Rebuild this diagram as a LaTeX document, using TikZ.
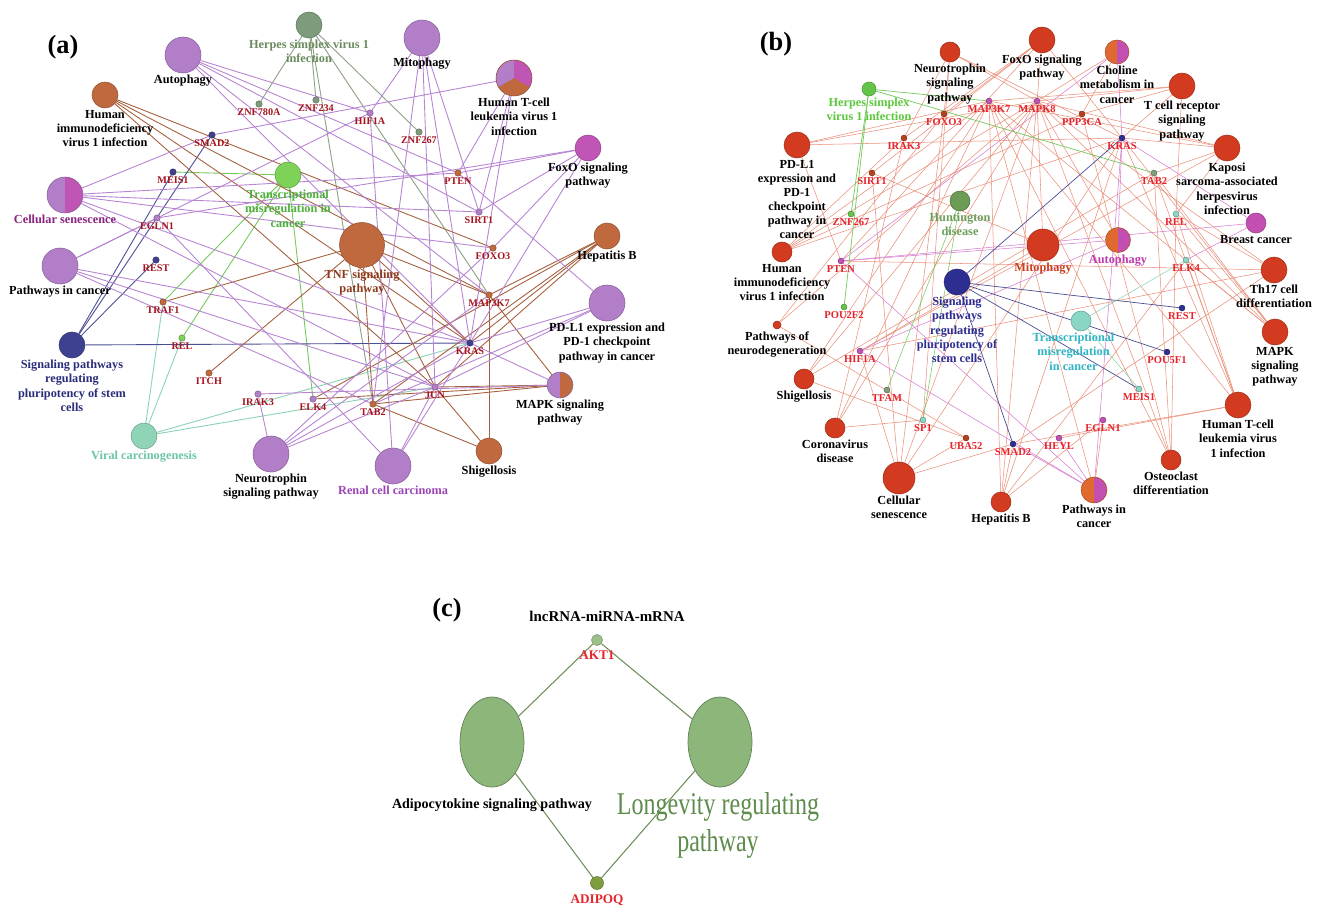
\documentclass[tikz,border=0pt]{standalone}
\usepackage{fontspec}
\setmainfont{Liberation Serif}
\newfontfamily\narrowserif[FakeStretch=0.76]{Liberation Serif}
\usepackage{tikz}
\usetikzlibrary{shapes.geometric,backgrounds}

% node colours
\definecolor{purpC}{HTML}{B27EC8}
\definecolor{magC}{HTML}{C055B5}
\definecolor{brownC}{HTML}{C0693E}
\definecolor{tealC}{HTML}{90D4B8}
\definecolor{navyC}{HTML}{3E418F}
\definecolor{greenC}{HTML}{7ED257}
\definecolor{herpC}{HTML}{7E9B7C}
\definecolor{redC}{HTML}{D33B20}
\definecolor{redD}{HTML}{B5401E}
\definecolor{orgC}{HTML}{E0692F}
\definecolor{magB}{HTML}{C34FB3}
\definecolor{greenB}{HTML}{62C548}
\definecolor{huntC}{HTML}{6B9B55}
\definecolor{tealB}{HTML}{8AD6C4}
\definecolor{navyB}{HTML}{2D2E92}
\definecolor{pathC}{HTML}{8DB77A}
\definecolor{aktC}{HTML}{9BC08A}
\definecolor{adipoqC}{HTML}{7F9C3E}
% text colours
\definecolor{geneT}{HTML}{A5141E}
\definecolor{geneBT}{HTML}{E6242C}
\definecolor{herpT}{HTML}{6B8B5F}
\definecolor{cellT}{HTML}{8A2381}
\definecolor{renalT}{HTML}{9B45B5}
\definecolor{viralT}{HTML}{6CC5A5}
\definecolor{transT}{HTML}{4DB03A}
\definecolor{tnfT}{HTML}{8B3A1A}
\definecolor{navyT}{HTML}{2A2D7A}
\definecolor{herpBT}{HTML}{5CC83C}
\definecolor{huntT}{HTML}{6E9E5A}
\definecolor{mitoT}{HTML}{C8401F}
\definecolor{autoT}{HTML}{C03AB0}
\definecolor{transBT}{HTML}{30B5C5}
\definecolor{longT}{HTML}{5E8C4C}
% edge colours
\definecolor{pedgeC}{HTML}{B784D2}
\definecolor{bedgeC}{HTML}{A5603E}
\definecolor{gedgeC}{HTML}{74C95C}
\definecolor{hedgeC}{HTML}{8AA183}
\definecolor{tedgeC}{HTML}{89D2B5}
\definecolor{nedgeC}{HTML}{4A4F95}
\definecolor{redgeC}{HTML}{EA8F78}
\definecolor{medgeC}{HTML}{D77AD0}
\definecolor{cedgeC}{HTML}{6E8F5A}

\begin{document}
\begin{tikzpicture}[x=0.2mm,y=-0.2mm]
        \tikzstyle{cat}=[circle, inner sep=0pt, fill=#1, draw=#1!75!black, line width=0.3pt]
        \tikzstyle{gene}=[circle, inner sep=0pt, minimum size=1.3mm, fill=#1, draw=#1!60!black, line width=0.2pt]
        \tikzstyle{huge}=[minimum size=9mm]
        \tikzstyle{big}=[minimum size=7.2mm]
        \tikzstyle{mid}=[minimum size=5.2mm]
        \tikzstyle{sml}=[minimum size=4mm]
        \tikzstyle{clbl}=[font=\fontsize{7}{8}\selectfont\bfseries, align=center, inner sep=1pt]
        \tikzstyle{glbl}=[font=\fontsize{5.8}{6.5}\selectfont\bfseries, text=geneT, inner sep=0.5pt]
        \tikzstyle{glblb}=[font=\fontsize{6}{6.5}\selectfont\bfseries, text=geneBT, inner sep=0.5pt]
        \tikzstyle{clblc}=[font=\fontsize{7.5}{9}\selectfont\bfseries, text=geneBT, inner sep=1pt, label distance=0.5mm]
        \tikzstyle{tag}=[font=\fontsize{15}{18}\selectfont\bfseries]
        \tikzstyle{pathw}=[ellipse, inner sep=0pt, fill=pathC, draw=pathC!70!black, line width=0.4pt, minimum width=12.8mm, minimum height=18mm]
        \tikzstyle{pedge}=[pedgeC, line width=0.5pt]
        \tikzstyle{bedge}=[bedgeC, line width=0.5pt]
        \tikzstyle{gedge}=[gedgeC, line width=0.5pt]
        \tikzstyle{hedge}=[hedgeC, line width=0.5pt]
        \tikzstyle{tedge}=[tedgeC, line width=0.5pt]
        \tikzstyle{nedge}=[nedgeC, line width=0.5pt]
        \tikzstyle{redge}=[redgeC, line width=0.3pt]
        \tikzstyle{medge}=[medgeC, line width=0.3pt]
        \tikzstyle{cedge}=[cedgeC, line width=0.6pt]
        \tikzset{halfpie/.style 2 args={circle, inner sep=0pt, fill=#1, draw=#1!75!black, line width=0.3pt,
            path picture={\fill[#2] (path picture bounding box.north) rectangle (path picture bounding box.south east);}}}
        \tikzset{tripie/.style={circle, inner sep=0pt, fill=brownC, draw=brownC!75!black, line width=0.3pt,
            path picture={
              \fill[purpC] (path picture bounding box.center) -- ++(90:6mm) arc[start angle=90, end angle=210, radius=6mm] -- cycle;
              \fill[magC] (path picture bounding box.center) -- ++(90:6mm) arc[start angle=90, end angle=-30, radius=6mm] -- cycle;}}}

        \useasboundingbox (0,0) rectangle (1320,913);
        \begin{pgfonlayer}{background}
          \fill[white] (0,0) rectangle (1320,913);
        \end{pgfonlayer}

        % Panel (a): pathways
        \node (tag-a) [tag] at (63,47) {(a)};
        \node (a-auto) [cat=purpC, big, label={[clbl]below:Autophagy}] at (183,55) {};
        \node (a-herp) [cat=herpC, mid, label={[clbl, text=herpT]below:{Herpes simplex virus 1\\infection}}] at (309,25) {};
        \node (a-mito) [cat=purpC, big, label={[clbl]below:Mitophagy}] at (422,38) {};
        \node (a-htlv) [tripie, big, label={[clbl]below:{Human T-cell\\leukemia virus 1\\infection}}] at (514,78) {};
        \node (a-foxo) [cat=magC, mid, label={[clbl]below:{FoxO signaling\\pathway}}] at (588,148) {};
        \node (a-hepb) [cat=brownC, mid, label={[clbl]below:Hepatitis B}] at (607,236) {};
        \node (a-pdl1) [cat=purpC, big, label={[clbl]below:{PD-L1 expression and\\PD-1 checkpoint\\pathway in cancer}}] at (607,303) {};
        \node (a-mapk) [halfpie={purpC}{brownC}, mid, label={[clbl]below:{MAPK signaling\\pathway}}] at (560,385) {};
        \node (a-shig) [cat=brownC, mid, label={[clbl]below:Shigellosis}] at (489,451) {};
        \node (a-renal) [cat=purpC, big, label={[clbl, text=renalT]below:Renal cell carcinoma}] at (393,466) {};
        \node (a-neuro) [cat=purpC, big, label={[clbl]below:{Neurotrophin\\signaling pathway}}] at (271,454) {};
        \node (a-viral) [cat=tealC, mid, label={[clbl, text=viralT]below:Viral carcinogenesis}] at (144,436) {};
        \node (a-stem) [cat=navyC, mid, label={[clbl, text=navyT]below:{Signaling pathways\\regulating\\pluripotency of stem\\cells}}] at (72,345) {};
        \node (a-pic) [cat=purpC, big, label={[clbl]below:Pathways in cancer}] at (60,266) {};
        \node (a-cell) [halfpie={purpC}{magC}, big, label={[clbl, text=cellT]below:Cellular senescence}] at (65,195) {};
        \node (a-hiv) [cat=brownC, mid, label={[clbl]below:{Human\\immunodeficiency\\virus 1 infection}}] at (105,95) {};
        \node (a-trans) [cat=greenC, mid, label={[clbl, text=transT]below:{Transcriptional\\misregulation in\\cancer}}] at (288,175) {};
        \node (a-tnf) [cat=brownC, huge, label={[clbl, text=tnfT]below:{TNF signaling\\pathway}}] at (362,245) {};

        % Panel (a): genes
        \node (a-znf780a) [gene=herpC, label={[glbl]below:ZNF780A}] at (259,104) {};
        \node (a-znf234) [gene=herpC, label={[glbl]below:ZNF234}] at (316,100) {};
        \node (a-hif1a) [gene=purpC, label={[glbl]below:HIF1A}] at (370,113) {};
        \node (a-znf267) [gene=herpC, label={[glbl]below:ZNF267}] at (419,132) {};
        \node (a-smad2) [gene=navyC, label={[glbl]below:SMAD2}] at (212,135) {};
        \node (a-meis1) [gene=navyC, label={[glbl]below:MEIS1}] at (173,172) {};
        \node (a-egln1) [gene=purpC, label={[glbl]below:EGLN1}] at (157,218) {};
        \node (a-rest) [gene=navyC, label={[glbl]below:REST}] at (156,260) {};
        \node (a-traf1) [gene=brownC, label={[glbl]below:TRAF1}] at (163,302) {};
        \node (a-rel) [gene=greenC, label={[glbl]below:REL}] at (182,338) {};
        \node (a-itch) [gene=brownC, label={[glbl]below:ITCH}] at (209,373) {};
        \node (a-irak3) [gene=purpC, label={[glbl]below:IRAK3}] at (258,394) {};
        \node (a-elk4) [gene=purpC, label={[glbl]below:ELK4}] at (313,399) {};
        \node (a-tab2) [gene=brownC, label={[glbl]below:TAB2}] at (373,404) {};
        \node (a-jun) [gene=purpC, label={[glbl]below:JUN}] at (435,387) {};
        \node (a-kras) [gene=navyC, label={[glbl]below:KRAS}] at (470,343) {};
        \node (a-map3k7) [gene=brownC, label={[glbl]below:MAP3K7}] at (489,295) {};
        \node (a-foxo3) [gene=brownC, label={[glbl]below:FOXO3}] at (493,248) {};
        \node (a-sirt1) [gene=purpC, label={[glbl]below:SIRT1}] at (479,212) {};
        \node (a-pten) [gene=brownC, label={[glbl]below:PTEN}] at (458,173) {};

        % Panel (b): pathways
        \node (tag-b) [tag] at (776,44) {(b)};
        \node (b-neuro) [cat=redC, sml, label={[clbl]below:{Neurotrophin\\signaling\\pathway}}] at (950,52) {};
        \node (b-foxo) [cat=redC, mid, label={[clbl]below:{FoxO signaling\\pathway}}] at (1042,40) {};
        \node (b-chol) [halfpie={orgC}{magB}, minimum size=4.8mm, label={[clbl]below:{Choline\\metabolism in\\cancer}}] at (1117,52) {};
        \node (b-tcr) [cat=redC, mid, label={[clbl]below:{T cell receptor\\signaling\\pathway}}] at (1182,86) {};
        \node (b-kshv) [cat=redC, mid, label={[clbl]below:{Kaposi\\sarcoma-associated\\herpesvirus\\infection}}] at (1227,148) {};
        \node (b-brca) [cat=magB, sml, label={[clbl]below:Breast cancer}] at (1256,223) {};
        \node (b-th17) [cat=redC, mid, label={[clbl]below:{Th17 cell\\differentiation}}] at (1274,270) {};
        \node (b-mapk) [cat=redC, mid, label={[clbl]below:{MAPK\\signaling\\pathway}}] at (1275,332) {};
        \node (b-htlv) [cat=redC, mid, label={[clbl]below:{Human T-cell\\leukemia virus\\1 infection}}] at (1238,405) {};
        \node (b-osteo) [cat=redC, sml, label={[clbl]below:{Osteoclast\\differentiation}}] at (1171,460) {};
        \node (b-pic) [halfpie={orgC}{magB}, mid, label={[clbl]below:{Pathways in\\cancer}}] at (1094,490) {};
        \node (b-hepb) [cat=redC, sml, label={[clbl]below:Hepatitis B}] at (1001,502) {};
        \node (b-cell) [cat=redC, minimum size=6.4mm, label={[clbl]below:{Cellular\\senescence}}] at (899,478) {};
        \node (b-covid) [cat=redC, sml, label={[clbl]below:{Coronavirus\\disease}}] at (835,428) {};
        \node (b-shig) [cat=redC, sml, label={[clbl]below:Shigellosis}] at (804,379) {};
        \node (b-ndeg) [cat=redC, minimum size=1.6mm, label={[clbl]below:{Pathways of\\neurodegeneration}}] at (777,325) {};
        \node (b-hiv) [cat=redC, sml, label={[clbl]below:{Human\\immunodeficiency\\virus 1 infection}}] at (782,252) {};
        \node (b-pdl1) [cat=redC, mid, label={[clbl]below:{PD-L1\\expression and\\PD-1\\checkpoint\\pathway in\\cancer}}] at (797,145) {};
        \node (b-herp) [cat=greenB, minimum size=2.8mm, label={[clbl, text=herpBT]below:{Herpes simplex\\virus 1 infection}}] at (869,89) {};
        \node (b-hunt) [cat=huntC, sml, label={[clbl, text=huntT]below:{Huntington\\disease}}] at (960,201) {};
        \node (b-mito) [cat=redC, minimum size=6.4mm, label={[clbl, text=mitoT]below:Mitophagy}] at (1043,245) {};
        \node (b-auto) [halfpie={orgC}{magB}, minimum size=5mm, label={[clbl, text=autoT]below:Autophagy}] at (1118,240) {};
        \node (b-stem) [cat=navyB, mid, label={[clbl, text=navyB]below:{Signaling\\pathways\\regulating\\pluripotency of\\stem cells}}] at (957,282) {};
        \node (b-trans) [cat=tealB, sml, label={[clbl, text=transBT, xshift=-1.5mm]below:{Transcriptional\\misregulation\\in cancer}}] at (1081,321) {};

        % Panel (b): genes
        \node (b-foxo3) [gene=redD, minimum size=1.2mm, label={[glblb]below:FOXO3}] at (944,114) {};
        \node (b-map3k7) [gene=magB, minimum size=1.2mm, label={[glblb]below:MAP3K7}] at (989,101) {};
        \node (b-mapk8) [gene=magB, minimum size=1.2mm, label={[glblb]below:MAPK8}] at (1037,101) {};
        \node (b-ppp3ca) [gene=redD, minimum size=1.2mm, label={[glblb]below:PPP3CA}] at (1082,114) {};
        \node (b-kras) [gene=navyB, minimum size=1.2mm, label={[glblb]below:KRAS}] at (1122,138) {};
        \node (b-tab2) [gene=herpC, minimum size=1.2mm, label={[glblb]below:TAB2}] at (1154,173) {};
        \node (b-rel) [gene=tealB, minimum size=1.2mm, label={[glblb]below:REL}] at (1176,214) {};
        \node (b-elk4) [gene=tealB, minimum size=1.2mm, label={[glblb]below:ELK4}] at (1186,260) {};
        \node (b-rest) [gene=navyB, minimum size=1.2mm, label={[glblb]below:REST}] at (1182,308) {};
        \node (b-pou5f1) [gene=navyB, minimum size=1.2mm, label={[glblb]below:POU5F1}] at (1167,352) {};
        \node (b-meis1) [gene=tealB, minimum size=1.2mm, label={[glblb]below:MEIS1}] at (1139,389) {};
        \node (b-egln1) [gene=magB, minimum size=1.2mm, label={[glblb]below:EGLN1}] at (1103,420) {};
        \node (b-heyl) [gene=magB, minimum size=1.2mm, label={[glblb]below:HEYL}] at (1059,438) {};
        \node (b-smad2) [gene=navyB, minimum size=1.2mm, label={[glblb]below:SMAD2}] at (1013,444) {};
        \node (b-uba52) [gene=redD, minimum size=1.2mm, label={[glblb]below:UBA52}] at (966,438) {};
        \node (b-sp1) [gene=tealB, minimum size=1.2mm, label={[glblb]below:SP1}] at (923,420) {};
        \node (b-tfam) [gene=herpC, minimum size=1.2mm, label={[glblb]below:TFAM}] at (887,390) {};
        \node (b-hif1a) [gene=magB, minimum size=1.2mm, label={[glblb]below:HIF1A}] at (860,351) {};
        \node (b-pou2f2) [gene=greenB, minimum size=1.2mm, label={[glblb]below:POU2F2}] at (844,307) {};
        \node (b-pten) [gene=magB, minimum size=1.2mm, label={[glblb]below:PTEN}] at (841,261) {};
        \node (b-znf267) [gene=greenB, minimum size=1.2mm, label={[glblb]below:ZNF267}] at (851,214) {};
        \node (b-sirt1) [gene=redD, minimum size=1.2mm, label={[glblb]below:SIRT1}] at (872,173) {};
        \node (b-irak3) [gene=redD, minimum size=1.2mm, label={[glblb]below:IRAK3}] at (904,138) {};

        % Panel (c)
        \node (tag-c) [tag] at (447,610) {(c)};
        \node (c-title) [font=\fontsize{8.5}{10}\selectfont\bfseries] at (607,616) {lncRNA-miRNA-mRNA};
        \node (c-akt1) [cat=aktC, minimum size=2.2mm, label={[clblc]below:AKT1}] at (597,640) {};
        \node (c-adipo) [pathw, label={[font=\fontsize{8}{9}\selectfont\bfseries, label distance=1mm]below:Adipocytokine signaling pathway}] at (492,742) {};
        \node (c-long) [pathw] at (720,742) {};
        \node (c-longlbl) [font=\narrowserif\fontsize{18}{21}\selectfont, text=longT, align=center] at (718,825) {Longevity regulating\\pathway};
        \node (c-adipoq) [cat=adipoqC, minimum size=2.6mm, label={[clblc]below:ADIPOQ}] at (597,883) {};

        % Edges
        \begin{pgfonlayer}{background}
          % panel (a)
          \foreach \g in {znf780a,znf234,znf267,map3k7,tab2} \draw[hedge] (a-herp) -- (a-\g);
          \foreach \g in {meis1,traf1,rel,elk4} \draw[gedge] (a-trans) -- (a-\g);
          \foreach \g in {traf1,rel,kras,jun} \draw[tedge] (a-viral) -- (a-\g);
          \foreach \g in {smad2,meis1,rest,kras} \draw[nedge] (a-stem) -- (a-\g);
          \foreach \g in {foxo3,map3k7,kras,jun} \draw[bedge] (a-hiv) -- (a-\g);
          \foreach \g in {traf1,itch,map3k7,kras,jun,tab2} \draw[bedge] (a-tnf) -- (a-\g);
          \foreach \g in {map3k7,kras,jun,tab2,elk4} \draw[bedge] (a-hepb) -- (a-\g);
          \foreach \g in {map3k7,jun,tab2} \draw[bedge] (a-shig) -- (a-\g);
          \foreach \g in {map3k7,jun,tab2,elk4} \draw[bedge] (a-mapk) -- (a-\g);
          \foreach \g in {kras,irak3} \draw[pedge] (a-mapk) -- (a-\g);
          \foreach \g in {pten,kras,jun,tab2} \draw[pedge] (a-pdl1) -- (a-\g);
          \foreach \g in {pten,sirt1,foxo3,kras,egln1} \draw[pedge] (a-foxo) -- (a-\g);
          \foreach \g in {smad2,pten,sirt1,kras} \draw[pedge] (a-htlv) -- (a-\g);
          \foreach \g in {hif1a,jun,tab2,kras,sirt1} \draw[pedge] (a-mito) -- (a-\g);
          \foreach \g in {hif1a,pten,sirt1,kras,map3k7} \draw[pedge] (a-auto) -- (a-\g);
          \foreach \g in {smad2,pten,sirt1,foxo3,kras,jun} \draw[pedge] (a-cell) -- (a-\g);
          \foreach \g in {egln1,hif1a,kras,jun,tab2} \draw[pedge] (a-pic) -- (a-\g);
          \foreach \g in {irak3,kras,jun,map3k7,foxo3} \draw[pedge] (a-neuro) -- (a-\g);
          \foreach \g in {hif1a,egln1,kras,jun} \draw[pedge] (a-renal) -- (a-\g);
          % panel (b)
          \foreach \g in {foxo3,irak3,mapk8,kras,sp1} \draw[redge] (b-neuro) -- (b-\g);
          \foreach \g in {foxo3,mapk8,sirt1,irak3,pten,kras} \draw[redge] (b-foxo) -- (b-\g);
          \foreach \g in {mapk8,ppp3ca} \draw[redge] (b-chol) -- (b-\g);
          \foreach \g in {kras,pten} \draw[medge] (b-chol) -- (b-\g);
          \foreach \g in {ppp3ca,mapk8,map3k7,kras,rel} \draw[redge] (b-tcr) -- (b-\g);
          \foreach \g in {mapk8,map3k7,kras,tab2,rel,hif1a} \draw[redge] (b-kshv) -- (b-\g);
          \foreach \g in {kras,pten,elk4} \draw[medge] (b-brca) -- (b-\g);
          \foreach \g in {mapk8,hif1a,rel,smad2,pten} \draw[redge] (b-th17) -- (b-\g);
          \foreach \g in {map3k7,mapk8,kras,tab2,elk4,rel} \draw[redge] (b-mapk) -- (b-\g);
          \foreach \g in {smad2,heyl,kras,map3k7,tab2,rel,elk4} \draw[redge] (b-htlv) -- (b-\g);
          \foreach \g in {map3k7,mapk8,tab2,rel,ppp3ca} \draw[redge] (b-osteo) -- (b-\g);
          \foreach \g in {smad2,pten,kras,hif1a,heyl} \draw[medge] (b-pic) -- (b-\g);
          \foreach \g in {map3k7,egln1} \draw[redge] (b-pic) -- (b-\g);
          \foreach \g in {map3k7,mapk8,kras,smad2,elk4,egln1} \draw[redge] (b-hepb) -- (b-\g);
          \foreach \g in {smad2,sirt1,foxo3,hif1a,mapk8,kras,uba52} \draw[redge] (b-cell) -- (b-\g);
          \foreach \g in {sp1,mapk8,map3k7,irak3} \draw[redge] (b-covid) -- (b-\g);
          \foreach \g in {map3k7,mapk8,uba52,tab2} \draw[redge] (b-shig) -- (b-\g);
          \foreach \g in {mapk8,uba52,foxo3} \draw[redge] (b-ndeg) -- (b-\g);
          \foreach \g in {map3k7,mapk8,kras,ppp3ca,irak3} \draw[redge] (b-hiv) -- (b-\g);
          \foreach \g in {kras,pten,mapk8,map3k7} \draw[redge] (b-pdl1) -- (b-\g);
          \foreach \g in {hif1a,mapk8,sirt1} \draw[redge] (b-mito) -- (b-\g);
          \foreach \g in {kras,pten,hif1a} \draw[medge] (b-auto) -- (b-\g);
          \draw[redge] (b-auto) -- (b-mapk8);
          \foreach \g in {znf267,map3k7,pou2f2,tab2} \draw[gedgeC, line width=0.4pt] (b-herp) -- (b-\g);
          \foreach \g in {sp1,tfam} \draw[gedgeC, line width=0.3pt] (b-hunt) -- (b-\g);
          \foreach \g in {kras,rest,pou5f1,meis1,smad2} \draw[nedgeC, line width=0.4pt] (b-stem) -- (b-\g);
          \foreach \g in {elk4,meis1} \draw[tedgeC, line width=0.3pt] (b-trans) -- (b-\g);
          % panel (c)
          \draw[cedge] (c-akt1) -- (c-adipo);
          \draw[cedge] (c-akt1) -- (c-long);
          \draw[cedge] (c-adipo) -- (c-adipoq);
          \draw[cedge] (c-long) -- (c-adipoq);
        \end{pgfonlayer}
\end{tikzpicture}
\end{document}
